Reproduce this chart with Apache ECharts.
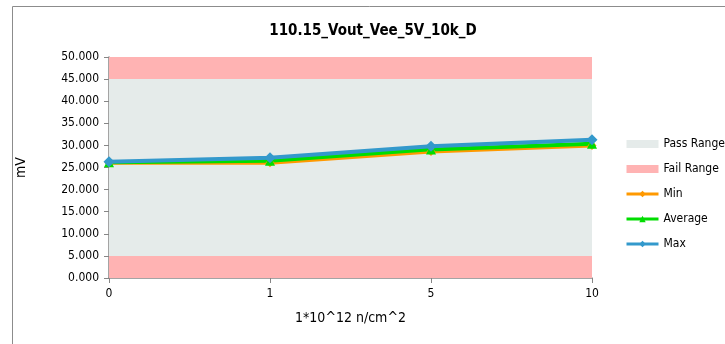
<!DOCTYPE html>
<html><head><meta charset="utf-8">
<script src="https://cdn.jsdelivr.net/npm/echarts@6/dist/echarts.min.js"></script>
<style>html,body{margin:0;padding:0;background:#fff}#c{width:725px;height:344px}</style>
</head><body><div id="c"></div>
<script>
var categories = ['0', '1', '5', '10'];
var minVals = [26.1, 26.1, 28.6, 30.0];
var avgVals = [26.2, 26.5, 29.1, 30.4];
var maxVals = [26.3, 27.2, 29.8, 31.3];
var failLow = [5, 5, 5, 5];
var passBand = [40, 40, 40, 40];
var failHigh = [5, 5, 5, 5];

var font = '"Liberation Sans Narrow", "DejaVu Sans Condensed", sans-serif';
var chart = echarts.init(document.getElementById('c'));
function band(name, data, color) {
  return {name: name, type: 'line', stack: 'range', data: data, symbol: 'none',
    lineStyle: {width: 0}, itemStyle: {color: color}, areaStyle: {color: color, opacity: 1},
    silent: true, z: 1};
}
function ln(name, data, color, sym, size) {
  return {name: name, type: 'line', data: data, symbol: sym, symbolSize: size,
    lineStyle: {width: 4, color: color}, itemStyle: {color: color}, z: 3};
}
chart.setOption({
  animation: false,
  graphic: [{type: 'rect', shape: {x: 12.5, y: 6.5, width: 800, height: 400},
    style: {fill: 'none', stroke: '#8c8c8c', lineWidth: 1}, z: -1}],
  title: {text: '110.15_Vout_Vee_5V_10k_D', left: 368, top: 19, textAlign: 'center',
    textStyle: {fontFamily: font, fontSize: 15, fontWeight: 'bold', color: '#000'}},
  grid: {left: 109, right: 133, top: 57, bottom: 66},
  legend: {
    orient: 'vertical', left: 620, top: 133, itemGap: 13, itemWidth: 32, itemHeight: 8,
    textStyle: {fontFamily: font, fontSize: 12, color: '#000'},
    lineStyle: {width: 3},
    data: [{name: 'Pass Range', icon: 'rect'}, {name: 'Fail Range', icon: 'rect'}, 'Min', 'Average', 'Max']
  },
  xAxis: {type: 'category', data: categories, boundaryGap: false,
    name: '1*10^12 n/cm^2', nameLocation: 'middle', nameGap: 33,
    nameTextStyle: {fontFamily: font, fontSize: 14, color: '#000'},
    axisLine: {lineStyle: {color: '#868686', width: 1.5}},
    axisTick: {show: true, length: 5, alignWithLabel: true, lineStyle: {color: '#868686'}},
    axisLabel: {fontFamily: font, fontSize: 12, color: '#000', margin: 10}},
  yAxis: {type: 'value', min: 0, max: 50, interval: 5,
    name: 'mV', nameLocation: 'middle', nameGap: 81, nameRotate: 90,
    nameTextStyle: {fontFamily: font, fontSize: 14, color: '#000'},
    axisLine: {show: true, lineStyle: {color: '#868686', width: 1.5}},
    axisTick: {show: true, inside: false, length: 5, lineStyle: {color: '#868686'}},
    splitLine: {show: false},
    axisLabel: {fontFamily: font, fontSize: 12, color: '#000', margin: 10,
      formatter: function (v) { return v.toFixed(3); }}},
  series: [
    band('Fail Range', failLow, '#FFB3B3'),
    band('Pass Range', passBand, '#E5EBEA'),
    band('Fail Range', failHigh, '#FFB3B3'),
    ln('Min', minVals, '#FF9900', 'diamond', 9),
    ln('Average', avgVals, '#00DD00', 'triangle', 10),
    ln('Max', maxVals, '#3399CC', 'diamond', 11)
  ]
});
</script></body></html>
